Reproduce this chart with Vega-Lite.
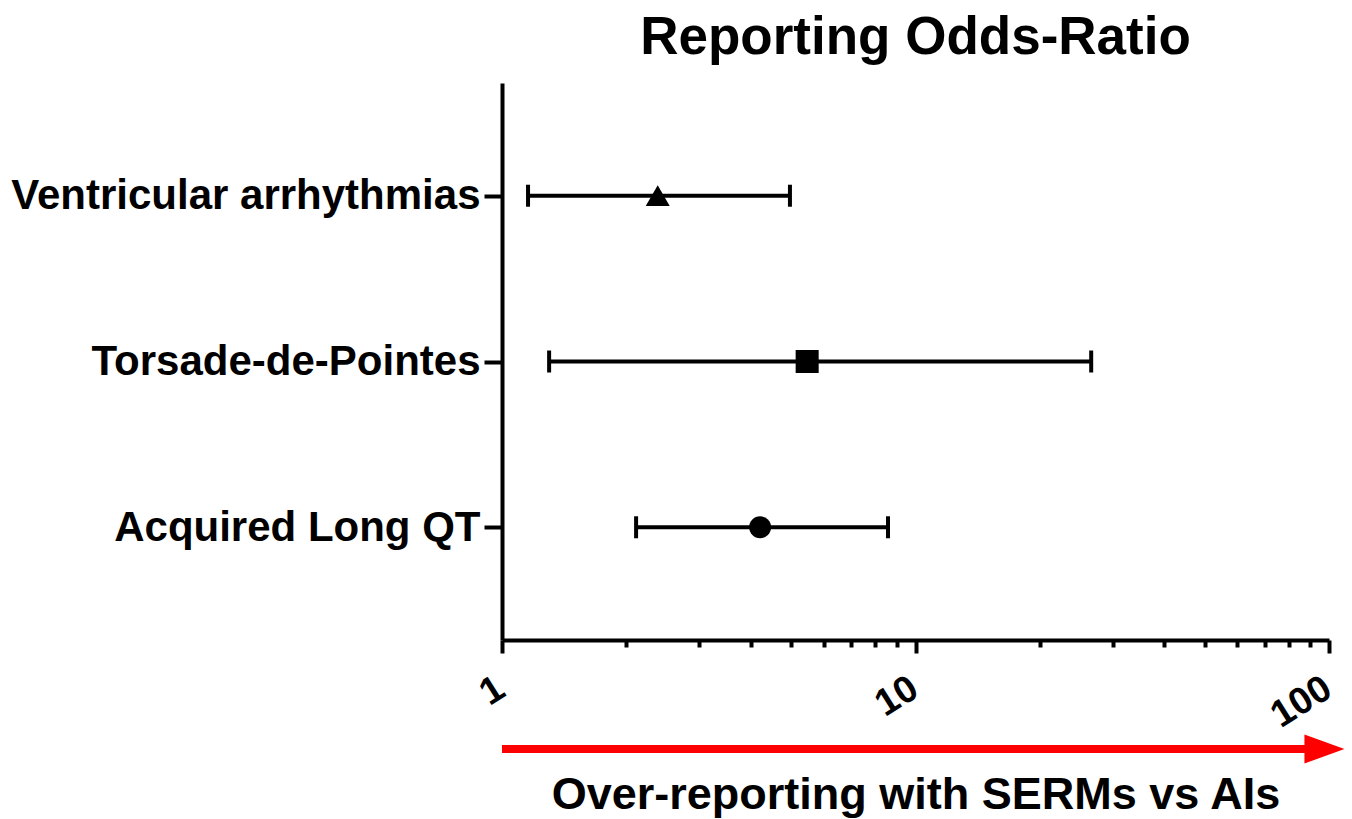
{
  "$schema": "https://vega.github.io/schema/vega-lite/v6.json",
  "background": "white",
  "padding": {"left": 10, "top": 12, "right": 4, "bottom": 4},
  "spacing": -1,
  "config": {
    "view": {"stroke": null},
    "font": "Liberation Sans",
    "axis": {"labelFont": "Liberation Sans", "titleFont": "Liberation Sans", "grid": false}
  },
  "resolve": {"scale": {"x": "independent", "y": "independent"}},
  "vconcat": [
    {
      "width": 827,
      "height": 557,
      "title": {"text": "Reporting Odds-Ratio", "fontSize": 53, "fontWeight": "bold", "color": "black", "anchor": "middle", "font": "Liberation Sans", "offset": 18},
      "data": {
        "values": [
          {"event": "Ventricular arrhythmias", "ror": 2.38, "lo": 1.156, "hi": 4.97},
          {"event": "Torsade-de-Pointes", "ror": 5.47, "lo": 1.30, "hi": 26.6},
          {"event": "Acquired Long QT", "ror": 4.21, "lo": 2.11, "hi": 8.58}
        ]
      },
      "encoding": {
        "y": {
          "field": "event",
          "type": "nominal",
          "sort": ["Ventricular arrhythmias", "Torsade-de-Pointes", "Acquired Long QT"],
          "scale": {"type": "point", "padding": 0.68},
          "axis": {
            "title": null,
            "domainColor": "black",
            "domainWidth": 4,
            "tickColor": "black",
            "tickWidth": 4,
            "tickSize": 18,
            "labelFontSize": 42,
            "labelFontWeight": "bold",
            "labelColor": "black",
            "labelPadding": 4,
            "labelLimit": 0
          }
        }
      },
      "layer": [
        {
          "mark": {"type": "rule", "strokeWidth": 4, "color": "black"},
          "encoding": {
            "x": {
              "field": "lo",
              "type": "quantitative",
              "scale": {"type": "log", "domain": [1, 100], "nice": false},
              "axis": {
                "title": null,
                "values": [1, 2, 3, 4, 5, 6, 7, 8, 9, 10, 20, 30, 40, 50, 60, 70, 80, 90, 100],
                "labelExpr": "(datum.value == 1 || datum.value == 10 || datum.value == 100) ? datum.label : ''",
                "format": "d",
                "domainColor": "black",
                "domainWidth": 4,
                "tickColor": "black",
                "tickWidth": 4,
                "tickSize": {"condition": {"test": "datum.value == 1 || datum.value == 10 || datum.value == 100", "value": 13}, "value": 7},
                "labelFontSize": 38,
                "labelFontWeight": "bold",
                "labelColor": "black",
                "labelAngle": -32,
                "labelPadding": 16,
                "labelOffset": -11,
                "labelOverlap": false,
                "labelFlush": false
              }
            },
            "x2": {"field": "hi"}
          }
        },
        {
          "mark": {"type": "tick", "thickness": 4, "size": 22, "color": "black", "opacity": 1},
          "encoding": {"x": {"field": "lo", "type": "quantitative"}}
        },
        {
          "mark": {"type": "tick", "thickness": 4, "size": 22, "color": "black", "opacity": 1},
          "encoding": {"x": {"field": "hi", "type": "quantitative"}}
        },
        {
          "mark": {"type": "point", "filled": true, "opacity": 1, "color": "black"},
          "encoding": {
            "x": {"field": "ror", "type": "quantitative"},
            "shape": {
              "field": "event",
              "type": "nominal",
              "scale": {"domain": ["Ventricular arrhythmias", "Torsade-de-Pointes", "Acquired Long QT"], "range": ["triangle-up", "square", "circle"]},
              "legend": null
            },
            "size": {
              "field": "event",
              "type": "nominal",
              "scale": {"domain": ["Ventricular arrhythmias", "Torsade-de-Pointes", "Acquired Long QT"], "range": [576, 484, 400]},
              "legend": null
            }
          }
        }
      ]
    },
    {
      "width": 827,
      "height": 14,
      "data": {"values": [{"lane": "arrow", "start": 1, "end": 88, "head": 97.5}]},
      "encoding": {
        "y": {"field": "lane", "type": "nominal", "axis": null}
      },
      "layer": [
        {
          "mark": {"type": "rule", "strokeWidth": 8, "color": "#ff0000", "strokeCap": "butt"},
          "encoding": {
            "x": {
              "field": "start",
              "type": "quantitative",
              "scale": {"type": "log", "domain": [1, 100], "nice": false},
              "axis": {
                "title": "Over-reporting with SERMs vs AIs",
                "titleFontSize": 45,
                "titleFontWeight": "bold",
                "titleColor": "black",
                "titlePadding": 16,
                "domain": false,
                "ticks": false,
                "labels": false,
                "grid": false
              }
            },
            "x2": {"field": "end"}
          }
        },
        {
          "mark": {"type": "point", "filled": true, "opacity": 1, "color": "#ff0000", "shape": "M-1,-0.72L1,0L-1,0.72Z", "size": 1600},
          "encoding": {"x": {"field": "head", "type": "quantitative"}}
        }
      ]
    }
  ]
}
